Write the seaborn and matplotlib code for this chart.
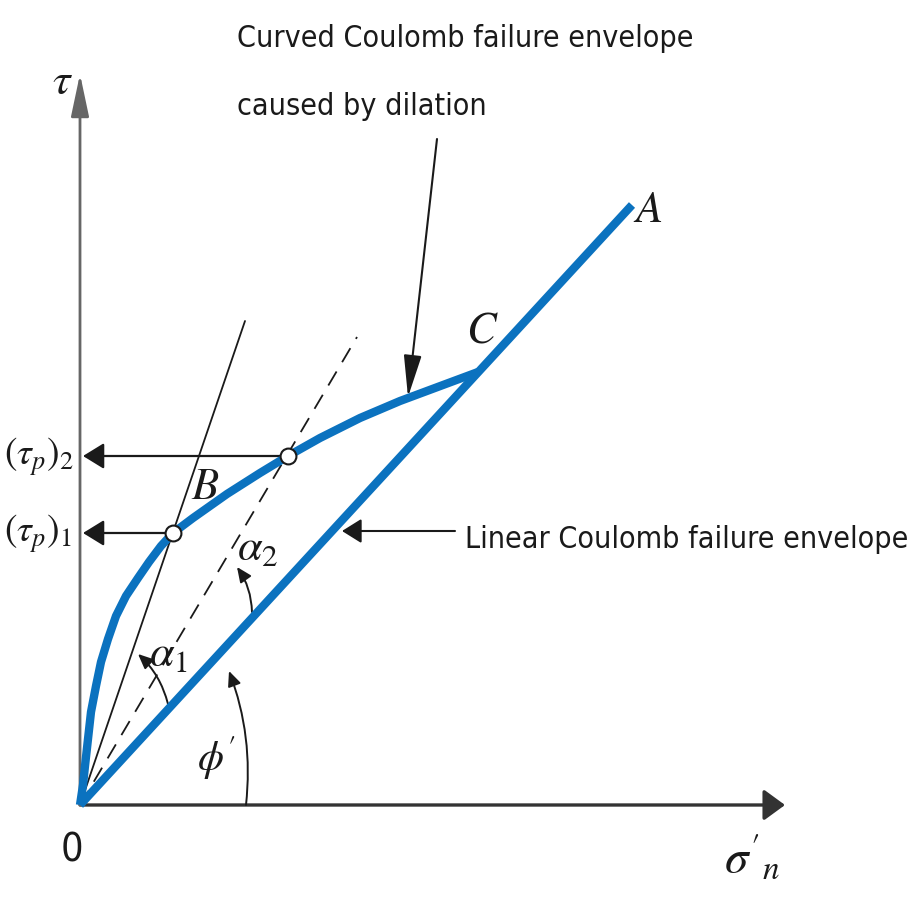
import matplotlib
matplotlib.use("Agg")
import matplotlib.pyplot as plt
from matplotlib import font_manager
import seaborn as sns

# Stresses in arbitrary units, origin at O (sigma'_n to the right, tau upward)
linear_sigma = [0, 552]
linear_tau = [0, 600]

curved_sigma = [0, 3, 5, 8, 11, 16, 21, 28, 36, 46, 58, 69, 81, 93,
                113, 147, 180, 208, 240, 280, 320, 363, 398]
curved_tau = [0, 20, 39, 66, 93, 119, 143, 166, 189, 209, 227, 243, 259, 272,
              287, 311, 332, 349, 367, 387, 404, 420, 433]

peak_sigma = [93, 208]          # the two peak points on the curved envelope
peak_tau = [272, 349]           # (tau_p)_1 and (tau_p)_2
peak_labels = [r"$(\tau_p)_1$", r"$(\tau_p)_2$"]

steep_line_end = (165, 484)     # O through (tau_p)_1
dashed_line_end = (277, 468)    # O through (tau_p)_2

axis_x_end = 705
axis_y_end = 731

curved_caption = ["Curved Coulomb failure envelope", "caused by dilation"]
linear_caption = "Linear Coulomb failure envelope"

BLUE = "#0b72bf"
INK = "#1a1a1a"

sns.set_theme(style="white")
plt.rcParams["font.family"] = ["DejaVu Sans"]
plt.rcParams["mathtext.fontset"] = "stix"


def narrow_font():
    """Return a condensed sans-serif face if one is installed."""
    wanted = ("condensed", "semi-condensed", "extra-condensed", "ultra-condensed")
    best = None
    for fe in font_manager.fontManager.ttflist:
        name = fe.name.lower()
        if "mono" in name or "serif" in name and "sans" not in name:
            continue
        is_narrow = fe.stretch in wanted or "narrow" in name or "condensed" in name
        if not is_narrow or fe.style != "normal":
            continue
        w = fe.weight if isinstance(fe.weight, int) else 400
        if w not in (400, 500) and fe.weight not in ("normal", "regular", "book", "medium"):
            continue
        score = 0 if fe.stretch == "condensed" or "narrow" in name else 1
        if best is None or score < best[0]:
            best = (score, fe.fname)
    if best:
        return font_manager.FontProperties(fname=best[1])
    return font_manager.FontProperties(family="DejaVu Sans", stretch="condensed")


NARROW = narrow_font()

fig = plt.figure(figsize=(9.13, 9.04), dpi=100)
ax = fig.add_axes([0, 0, 1, 1])
ax.set_xlim(-80, 833)
ax.set_ylim(-98, 806)
ax.axis("off")


def arrow(xy_from, xy_to, hl, hw, lw=1.5, color=INK, rad=0.0, z=3):
    ax.annotate("", xy=xy_to, xytext=xy_from,
                arrowprops=dict(arrowstyle=f"-|>,head_length={hl},head_width={hw}",
                                mutation_scale=1, lw=lw, color=color,
                                shrinkA=0, shrinkB=0,
                                connectionstyle=f"arc3,rad={rad}"),
                zorder=z)


# axes
arrow((0, 0), (axis_x_end, 0), 13, 9.5, lw=2.4, color="#333333")
arrow((0, 0), (0, axis_y_end), 26, 5.5, lw=2.0, color="#666666")

# construction lines through the origin
ax.plot([0, steep_line_end[0]], [0, steep_line_end[1]], color=INK, lw=1.3, zorder=2)
ax.plot([0, dashed_line_end[0]], [0, dashed_line_end[1]], color=INK, lw=1.3,
        dashes=(9, 6), zorder=2)

# failure envelopes
sns.lineplot(x=linear_sigma, y=linear_tau, ax=ax, color=BLUE, lw=6,
             sort=False, estimator=None, zorder=4)
sns.lineplot(x=curved_sigma, y=curved_tau, ax=ax, color=BLUE, lw=6,
             sort=False, estimator=None, zorder=4)
for line in ax.lines[-2:]:
    line.set_solid_capstyle("butt")
    line.set_solid_joinstyle("round")

# horizontal arrows from the peaks to the tau axis
for s, t, lab in zip(peak_sigma, peak_tau, peak_labels):
    arrow((s, t), (3, t), 13, 8, lw=1.6)
    ax.text(-76, t, lab, fontsize=27, ha="left", va="center", color=INK)

sns.scatterplot(x=peak_sigma, y=peak_tau, ax=ax, s=130, color="white",
                edgecolor=INK, linewidth=1.5, zorder=6)

# angle arcs
arrow((166, 0), (149, 134), 9, 4, lw=1.4, rad=0.12)
arrow((88, 101), (58, 151), 9, 4, lw=1.4, rad=0.15)
arrow((172, 193), (157, 238), 9, 4, lw=1.4, rad=0.15)

# callout arrows
arrow((357, 666), (328, 408), 26, 5.5, lw=1.5)
arrow((375, 274), (262, 274), 12, 7.5, lw=1.5)

# captions, sized so that the first line spans its width on the figure
captions = [
    ax.text(157, 759, curved_caption[0], fontproperties=NARROW, ha="left",
            va="baseline", color=INK),
    ax.text(157, 691, curved_caption[1], fontproperties=NARROW, ha="left",
            va="baseline", color=INK),
    ax.text(385, 258, linear_caption, fontproperties=NARROW, ha="left",
            va="baseline", color=INK),
]
base = 30
for t in captions:
    t.set_fontsize(base)
fig.canvas.draw()
renderer = fig.canvas.get_renderer()
w0 = captions[0].get_window_extent(renderer).width
size = base * 456 / w0
for t in captions:
    t.set_fontsize(size)
zero = ax.text(-8, -45, "0", fontproperties=NARROW, ha="center", va="center",
               color=INK)
zero.set_fontsize(size * 1.3)

ax.text(-18, 724, r"$\tau$", fontsize=32, ha="center", va="center", color=INK)
ax.text(672, -52, r"$\sigma'_n$", fontsize=34, ha="center", va="center", color=INK)
ax.text(125, 319, r"$B$", fontsize=32, ha="center", va="center", color=INK)
ax.text(402, 476, r"$C$", fontsize=32, ha="center", va="center", color=INK)
ax.text(568, 596, r"$A$", fontsize=32, ha="center", va="center", color=INK)
ax.text(88, 152, r"$\alpha_1$", fontsize=32, ha="center", va="center", color=INK)
ax.text(178, 258, r"$\alpha_2$", fontsize=32, ha="center", va="center", color=INK)
ax.text(137, 48, r"$\phi'$", fontsize=30, ha="center", va="center", color=INK)

fig.savefig("out.png", dpi=100)
